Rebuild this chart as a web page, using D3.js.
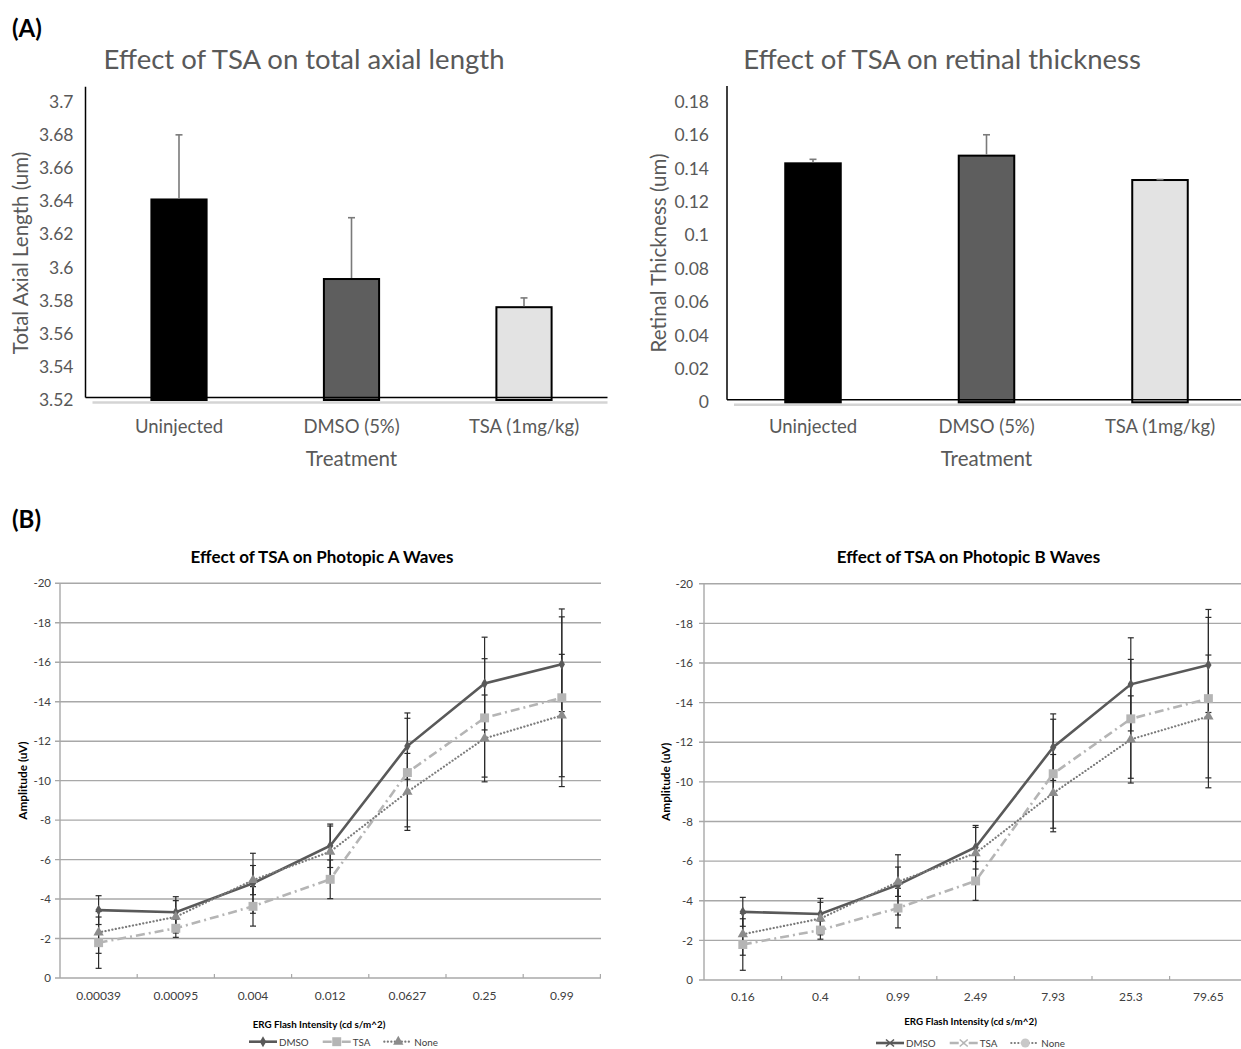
<!DOCTYPE html>
<html>
<head>
<meta charset="utf-8">
<script src="https://cdnjs.cloudflare.com/ajax/libs/d3/7.8.5/d3.min.js"></script>
<style>
    body { margin: 0; background: #ffffff; }
    svg { font-family: Lato, "Open Sans", sans-serif; }
</style>
</head>
<body>
<svg id="figure" width="1241" height="1049"></svg>
<script>
// ---- panel A : bar charts ----
const treatments = ["Uninjected", "DMSO (5%)", "TSA (1mg/kg)"];
const axialLength = [3.641, 3.593, 3.576];
const axialLengthErr = [0.039, 0.037, 0.0056];
const axialTicks = [3.52, 3.54, 3.56, 3.58, 3.6, 3.62, 3.64, 3.66, 3.68, 3.7];
const retinalThickness = [0.1431, 0.1477, 0.1331];
const retinalThicknessErr = [0.0024, 0.0125, 0.0003];
const retinalTicks = [0, 0.02, 0.04, 0.06, 0.08, 0.1, 0.12, 0.14, 0.16, 0.18];
const barFills = ["#000000", "#5e5e5e", "#e3e3e3"];

// ---- panel B : ERG line charts ----
const intensitiesA = ["0.00039", "0.00095", "0.004", "0.012", "0.0627", "0.25", "0.99"];
const intensitiesB = ["0.16", "0.4", "0.99", "2.49", "7.93", "25.3", "79.65"];
const amplitudeTicks = [0, -2, -4, -6, -8, -10, -12, -14, -16, -18, -20];
const seriesNames = ["DMSO", "TSA", "None"];
const dmso = [-3.44, -3.33, -4.8, -6.7, -11.75, -14.92, -15.9];
const dmsoErr = [0.73, 0.79, 1.52, 1.1, 1.68, 2.35, 2.4];
const tsa = [-1.79, -2.52, -3.63, -5.0, -10.41, -13.18, -14.2];
const tsaErr = [1.3, 0.46, 1.0, 0.98, 2.75, 3.0, 4.5];
const none = [-2.31, -3.1, -4.96, -6.4, -9.43, -12.14, -13.3];
const noneErr = [1.06, 0.82, 0.74, 1.3, 1.95, 2.2, 3.1];

const textGrey = "#595959";
const svg = d3.select("#figure");

// line style of each ERG series
const seriesStyle = {
    DMSO: {stroke: "#595959", width: 2.6, dash: null, marker: d3.symbolDiamond, size: 34, fill: "#595959"},
    TSA: {stroke: "#b5b5b5", width: 2.6, dash: "9,4,2,4", marker: d3.symbolSquare, size: 80, fill: "#b5b5b5"},
    None: {stroke: "#7a7a7a", width: 2.2, dash: "0.1,3.4", marker: d3.symbolTriangle, size: 46, fill: "#8c8c8c"}
};

// panel letters
svg.append("text").attr("x", 12).attr("y", 37).attr("font-size", 24)
    .attr("font-weight", "bold").text("(A)");
svg.append("text").attr("x", 12).attr("y", 528).attr("font-size", 24)
    .attr("font-weight", "bold").text("(B)");

/**
 * Bar chart with upper error bars, excel style
 */
function drawBarChart(c) {
    const g = svg.append("g");
    const pad = 0.68;
    const x = d3.scaleBand().domain(treatments).range(c.xRange)
        .paddingInner(pad).paddingOuter(pad / 2);
    const y = d3.scaleLinear().domain(d3.extent(c.ticks)).range(c.yRange);
    const base = y(c.ticks[0]);

    g.append("text")
        .attr("x", c.titleX).attr("y", 69)
        .attr("text-anchor", "middle").attr("font-size", 27.5).attr("fill", textGrey)
        .text(c.title);

    // y tick labels only
    const yAxis = g.append("g")
        .attr("transform", "translate(" + c.axisX + ",0)")
        .call(d3.axisLeft(y).tickValues(c.ticks).tickSize(0).tickPadding(c.labelGap)
            .tickFormat(d => String(+d.toFixed(2))));
    yAxis.select(".domain").remove();
    yAxis.selectAll("text").attr("font-size", 17.5).attr("fill", textGrey)
        .style("font-family", "Lato, sans-serif");

    // category labels
    const xAxis = g.append("g")
        .attr("transform", "translate(0,420)")
        .call(d3.axisBottom(x).tickSize(0).tickPadding(0));
    xAxis.select(".domain").remove();
    xAxis.selectAll("text").attr("font-size", 18.5).attr("fill", textGrey)
        .style("font-family", "Lato, sans-serif");

    g.append("text")
        .attr("x", x(treatments[1]) + x.bandwidth() / 2).attr("y", 466)
        .attr("text-anchor", "middle").attr("font-size", 20.5).attr("fill", textGrey)
        .text("Treatment");

    g.append("text")
        .attr("transform", "translate(" + c.yTitleX + ",253) rotate(-90)")
        .attr("text-anchor", "middle").attr("dominant-baseline", "central")
        .attr("font-size", 20.5).attr("fill", textGrey)
        .text(c.yTitle);

    // grey shadow under the axis
    g.append("line")
        .attr("x1", c.axisX + 7).attr("x2", c.axisEnd)
        .attr("y1", base + 2.5).attr("y2", base + 2.5)
        .attr("stroke", "#d4d4d4").attr("stroke-width", 2.5);

    const rows = treatments.map((t, i) => ({name: t, v: c.values[i], e: c.errors[i], fill: barFills[i]}));

    g.selectAll("rect.bar").data(rows).join("rect")
        .attr("class", "bar")
        .attr("x", d => x(d.name))
        .attr("width", x.bandwidth())
        .attr("y", d => y(d.v))
        .attr("height", d => base - y(d.v))
        .attr("fill", d => d.fill)
        .attr("stroke", "#000").attr("stroke-width", 2);

    // error bars (positive side only)
    const err = g.selectAll("g.err").data(rows).join("g").attr("class", "err")
        .attr("stroke", "#7a7a7a").attr("stroke-width", 1.6);
    err.append("line")
        .attr("x1", d => x(d.name) + x.bandwidth() / 2).attr("x2", d => x(d.name) + x.bandwidth() / 2)
        .attr("y1", d => y(d.v) - 1).attr("y2", d => y(d.v + d.e));
    err.append("line")
        .attr("x1", d => x(d.name) + x.bandwidth() / 2 - 3.5).attr("x2", d => x(d.name) + x.bandwidth() / 2 + 3.5)
        .attr("y1", d => y(d.v + d.e)).attr("y2", d => y(d.v + d.e));

    // axis lines
    g.append("line")
        .attr("x1", c.axisX).attr("x2", c.axisX)
        .attr("y1", c.axisTop).attr("y2", base - 2.5)
        .attr("stroke", "#000").attr("stroke-width", 1.5);
    g.append("line")
        .attr("x1", c.axisX).attr("x2", c.axisEnd)
        .attr("y1", base - 2.5).attr("y2", base - 2.5)
        .attr("stroke", "#000").attr("stroke-width", 1.5);
}

/**
 * ERG amplitude line chart with error bars and legend
 */
function drawLineChart(c) {
    const g = svg.append("g");
    const x = d3.scaleBand().domain(c.categories).range(c.xRange);
    const y = d3.scaleLinear().domain([0, -20]).range(c.yRange);
    const cx = d => x(d) + x.bandwidth() / 2;
    const x0 = c.xRange[0];

    g.append("text")
        .attr("x", c.titleX).attr("y", 556).attr("dominant-baseline", "central")
        .attr("text-anchor", "middle").attr("font-size", 17).attr("font-weight", "bold")
        .text(c.title);

    // gridlines
    g.selectAll("line.grid").data(amplitudeTicks).join("line")
        .attr("class", "grid")
        .attr("x1", x0 - 5).attr("x2", c.gridEnd)
        .attr("y1", d => y(d)).attr("y2", d => y(d))
        .attr("stroke", "#a8a8a8").attr("stroke-width", 1.4);
    g.append("line")
        .attr("x1", x0).attr("x2", x0)
        .attr("y1", y(-20)).attr("y2", y(0))
        .attr("stroke", "#a8a8a8").attr("stroke-width", 1.4);
    // category tick marks on the zero line
    g.selectAll("line.xtick").data(c.categories.slice(1).concat(["end"])).join("line")
        .attr("class", "xtick")
        .attr("x1", (d, i) => x0 + (i + 1) * x.step()).attr("x2", (d, i) => x0 + (i + 1) * x.step())
        .attr("y1", y(0) - 4).attr("y2", y(0))
        .attr("stroke", "#a8a8a8").attr("stroke-width", 1.2);

    const yAxis = g.append("g")
        .attr("transform", "translate(" + x0 + ",0)")
        .call(d3.axisLeft(y).tickValues(amplitudeTicks).tickSize(0).tickPadding(c.labelGap)
            .tickFormat(d => String(d)));
    yAxis.select(".domain").remove();
    yAxis.selectAll("text").attr("font-size", 11.5).attr("fill", "#404040")
        .style("font-family", "Lato, sans-serif");

    const xAxis = g.append("g")
        .attr("transform", "translate(0," + (c.xLabelY - 4) + ")")
        .call(d3.axisBottom(x).tickSize(0).tickPadding(0));
    xAxis.select(".domain").remove();
    xAxis.selectAll("text").attr("font-size", 12).attr("fill", "#404040")
        .style("font-family", "Lato, sans-serif");

    g.append("text")
        .attr("x", c.xTitleX).attr("y", c.xTitleY).attr("dominant-baseline", "central")
        .attr("text-anchor", "middle").attr("font-size", 9.8).attr("font-weight", "bold")
        .text("ERG Flash Intensity (cd s/m^2)");

    g.append("text")
        .attr("transform", "translate(" + c.yTitleX + "," + ((y(0) + y(-20)) / 2) + ") rotate(-90)")
        .attr("text-anchor", "middle").attr("dominant-baseline", "central")
        .attr("font-size", 11.8).attr("font-weight", "bold")
        .text("Amplitude (uV)");

    const series = [
        {name: "DMSO", values: dmso, errors: dmsoErr},
        {name: "TSA", values: tsa, errors: tsaErr},
        {name: "None", values: none, errors: noneErr}
    ];

    // error bars
    series.forEach(s => {
        const pts = c.categories.map((k, i) => ({k: k, v: s.values[i], e: s.errors[i]}));
        const eg = g.append("g").attr("stroke", "#2b2b2b").attr("stroke-width", 1.2);
        eg.selectAll("line.v").data(pts).join("line").attr("class", "v")
            .attr("x1", d => cx(d.k)).attr("x2", d => cx(d.k))
            .attr("y1", d => y(d.v - d.e)).attr("y2", d => y(d.v + d.e));
        [-1, 1].forEach(sign => {
            eg.selectAll("line.c" + sign).data(pts).join("line")
                .attr("x1", d => cx(d.k) - 3).attr("x2", d => cx(d.k) + 3)
                .attr("y1", d => y(d.v + sign * d.e)).attr("y2", d => y(d.v + sign * d.e));
        });
    });

    const line = d3.line().x(d => cx(d.k)).y(d => y(d.v));
    series.forEach(s => {
        const st = seriesStyle[s.name];
        const pts = c.categories.map((k, i) => ({k: k, v: s.values[i]}));
        g.append("path").datum(pts)
            .attr("d", line).attr("fill", "none")
            .attr("stroke", st.stroke).attr("stroke-width", st.width)
            .attr("stroke-dasharray", st.dash)
            .attr("stroke-linecap", s.name === "None" ? "round" : "butt");
        g.selectAll(null).data(pts).join("path")
            .attr("transform", d => "translate(" + cx(d.k) + "," + y(d.v) + ")")
            .attr("d", d3.symbol().type(st.marker).size(st.size))
            .attr("fill", st.fill);
    });

    // legend
    let lx = c.legendX;
    const ly = c.legendY;
    seriesNames.forEach((name, i) => {
        const st = seriesStyle[name];
        const item = g.append("g");
        item.append("line")
            .attr("x1", lx).attr("x2", lx + 28).attr("y1", ly).attr("y2", ly)
            .attr("stroke", st.stroke).attr("stroke-width", st.width)
            .attr("stroke-dasharray", st.dash)
            .attr("stroke-linecap", name === "None" ? "round" : "butt");
        const mk = c.legendMarkers[i];
        if (mk === "x") {
            item.append("path")
                .attr("d", "M" + (lx + 10) + "," + (ly - 3.5) + "L" + (lx + 18) + "," + (ly + 3.5)
                    + "M" + (lx + 10) + "," + (ly + 3.5) + "L" + (lx + 18) + "," + (ly - 3.5))
                .attr("stroke", st.stroke).attr("stroke-width", 1.6);
        } else if (mk === "circle") {
            item.append("circle").attr("cx", lx + 14).attr("cy", ly).attr("r", 4.5)
                .attr("fill", "#c8c8c8");
        } else {
            item.append("path")
                .attr("transform", "translate(" + (lx + 14) + "," + ly + ")")
                .attr("d", d3.symbol().type(st.marker).size(st.size))
                .attr("fill", st.fill);
        }
        const t = item.append("text")
            .attr("x", lx + 30).attr("y", ly).attr("dominant-baseline", "central")
            .attr("font-size", 9.8).attr("fill", "#404040")
            .text(name);
        lx += 30 + t.node().getComputedTextLength() + 14;
    });
}

drawBarChart({
    title: "Effect of TSA on total axial length", titleX: 304,
    yTitle: "Total Axial Length (um)", yTitleX: 20,
    values: axialLength, errors: axialLengthErr, ticks: axialTicks,
    xRange: [92.75, 610.25], yRange: [400, 101.7],
    axisX: 85.5, axisTop: 86.7, axisEnd: 607.5, labelGap: 12
});

drawBarChart({
    title: "Effect of TSA on retinal thickness", titleX: 942,
    yTitle: "Retinal Thickness (um)", yTitleX: 657.5,
    values: retinalThickness, errors: retinalThicknessErr, ticks: retinalTicks,
    xRange: [726.25, 1246.75], yRange: [402.3, 101.7],
    axisX: 727, axisTop: 86, axisEnd: 1241, labelGap: 18
});

drawLineChart({
    title: "Effect of TSA on Photopic A Waves", titleX: 322,
    categories: intensitiesA,
    xRange: [60, 600.4], yRange: [978, 583.3], gridEnd: 601,
    labelGap: 9, xLabelY: 995, xTitleX: 319, xTitleY: 1024, yTitleX: 22,
    legendX: 249, legendY: 1041.7, legendMarkers: ["symbol", "symbol", "symbol"]
});

drawLineChart({
    title: "Effect of TSA on Photopic B Waves", titleX: 968.5,
    categories: intensitiesB,
    xRange: [704, 1247.2], yRange: [980, 583.7], gridEnd: 1241,
    labelGap: 11, xLabelY: 996, xTitleX: 970.5, xTitleY: 1020.7, yTitleX: 665.5,
    legendX: 876, legendY: 1043, legendMarkers: ["x", "x", "circle"]
});
</script>
</body>
</html>
